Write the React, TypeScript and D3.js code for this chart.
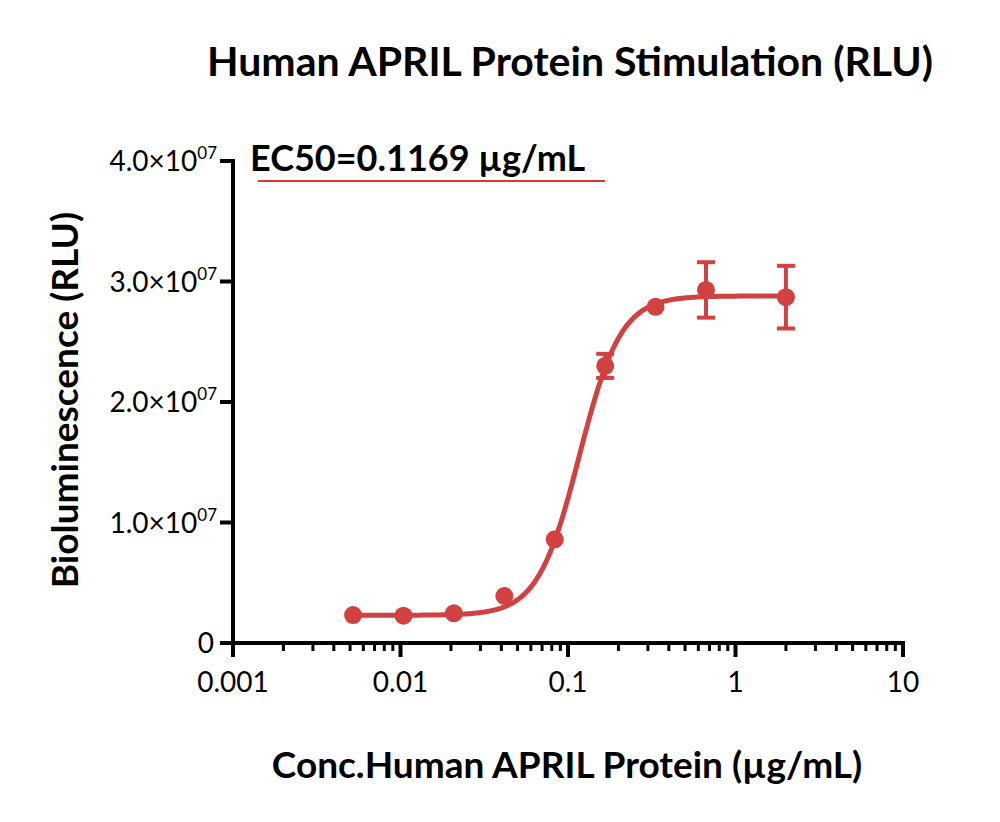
import React from "react";
import * as d3 from "d3";

const concentrations = [0.00521, 0.01042, 0.02083, 0.04167, 0.08333, 0.1667, 0.3333, 0.6667, 2.0];
const responses = [2.32e6, 2.27e6, 2.46e6, 3.9e6, 8.6e6, 2.3e7, 2.79e7, 2.93e7, 2.87e7];
const errors = [0, 0, 0, 0, 0, 1.0e6, 0, 2.3e6, 2.6e6];
const fitBottom = 2.3e6;
const fitTop = 2.88e7;
const fitEC50 = 0.1169;
const fitHill = 3.5;
const xTicks = [0.001, 0.01, 0.1, 1, 10];
const xTickLabels = ["0.001", "0.01", "0.1", "1", "10"];
const yTicks = [0, 1e7, 2e7, 3e7, 4e7];
const yTickMantissa = ["0", "1.0", "2.0", "3.0", "4.0"];

const FONT = "Lato, 'Open Sans', sans-serif";
const RED = "#d14141";

export default function App() {
  const x = d3.scaleLog().domain([0.001, 10]).range([233, 903]);
  const y = d3.scaleLinear().domain([0, 4e7]).range([643, 161]);

  const minor: number[] = [];
  for (let d = 0.001; d < 10; d *= 10) {
    for (let k = 2; k <= 9; k++) minor.push(d * k);
  }

  const fit = (c: number) => fitBottom + (fitTop - fitBottom) / (1 + Math.pow(fitEC50 / c, fitHill));
  const logx0 = Math.log10(concentrations[0]);
  const logx1 = Math.log10(concentrations[concentrations.length - 1]);
  const curvePts: [number, number][] = d3.range(0, 201).map((i) => {
    const c = Math.pow(10, logx0 + ((logx1 - logx0) * i) / 200);
    return [x(c), y(fit(c))];
  });
  const line = d3.line().curve(d3.curveLinear)(curvePts) || "";

  return (
    <svg width={1000} height={822} style={{ position: "absolute", left: 0, top: 0, background: "#fff" }} fontFamily={FONT}>
      <rect width={1000} height={822} fill="#fff" />
      <text x={570} y={76} textAnchor="middle" fontSize={41} fontWeight={700}>
        Human APRIL Protein Stimulation (RLU)
      </text>

      {/* EC50 annotation */}
      <text x={250} y={171} fontSize={36} fontWeight={700}>
        EC50=0.1169 µg/mL
      </text>
      <line x1={258} x2={605} y1={181} y2={181} stroke="#e8302e" strokeWidth={2} />

      {/* Y axis */}
      <line x1={233} x2={233} y1={159} y2={655} stroke="#000" strokeWidth={4} />
      {yTicks.map((t, i) => (
        <g key={"yt" + i}>
          <line x1={220} x2={233} y1={y(t)} y2={y(t)} stroke="#000" strokeWidth={4} />
          {t === 0 ? (
            <text x={214} y={y(t) + 10} textAnchor="end" fontSize={28}>0</text>
          ) : (
            <text x={217} y={y(t) + 10} textAnchor="end" fontSize={28}>
              {yTickMantissa[i] + "×10"}
              <tspan fontSize={17} dy={-12}>07</tspan>
            </text>
          )}
        </g>
      ))}

      {/* X axis */}
      <line x1={220} x2={905} y1={643} y2={643} stroke="#000" strokeWidth={4} />
      {minor.map((m, i) => (
        <line key={"mn" + i} x1={x(m)} x2={x(m)} y1={643} y2={651} stroke="#000" strokeWidth={3} />
      ))}
      {xTicks.map((t, i) => (
        <g key={"xt" + i}>
          <line x1={x(t)} x2={x(t)} y1={643} y2={657} stroke="#000" strokeWidth={4} />
          <text x={x(t)} y={692} textAnchor="middle" fontSize={28}>{xTickLabels[i]}</text>
        </g>
      ))}

      {/* Axis titles */}
      <text transform="translate(78,400) rotate(-90)" textAnchor="middle" fontSize={37} fontWeight={700}>
        Bioluminescence (RLU)
      </text>
      <text x={567} y={778} textAnchor="middle" fontSize={37} fontWeight={700}>
        Conc.Human APRIL Protein (µg/mL)
      </text>

      {/* Fit curve */}
      <path d={line} fill="none" stroke={RED} strokeWidth={5} strokeLinejoin="round" />

      {/* Error bars */}
      {concentrations.map((c, i) =>
        errors[i] > 0 ? (
          <g key={"eb" + i} stroke={RED} strokeWidth={4}>
            <line x1={x(c)} x2={x(c)} y1={y(responses[i] + errors[i])} y2={y(responses[i] - errors[i])} />
            <line x1={x(c) - 9} x2={x(c) + 9} y1={y(responses[i] + errors[i])} y2={y(responses[i] + errors[i])} />
            <line x1={x(c) - 9} x2={x(c) + 9} y1={y(responses[i] - errors[i])} y2={y(responses[i] - errors[i])} />
          </g>
        ) : null
      )}

      {/* Points */}
      {concentrations.map((c, i) => (
        <circle key={"pt" + i} cx={x(c)} cy={y(responses[i])} r={9} fill={RED} />
      ))}
    </svg>
  );
}
